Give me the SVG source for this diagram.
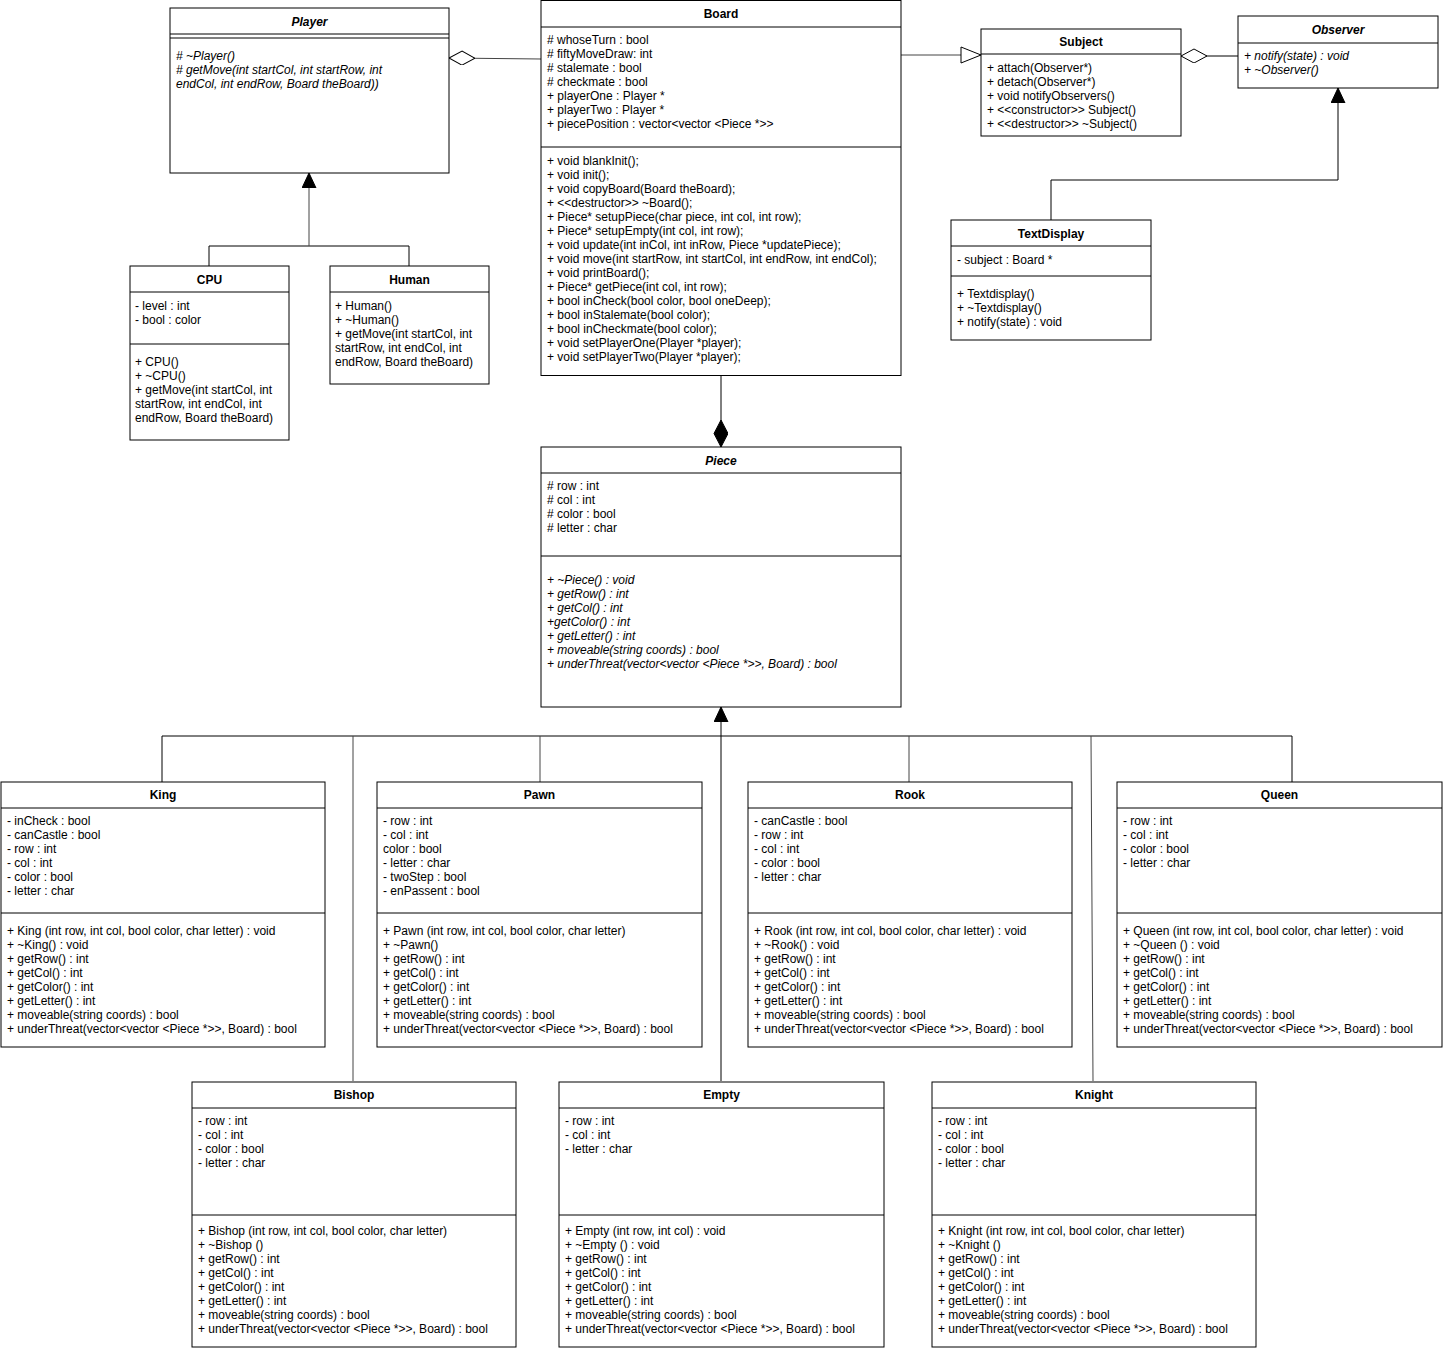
<svg xmlns="http://www.w3.org/2000/svg" width="1443" height="1351" viewBox="0 0 1443 1351">
<style>
.box{fill:#fff;stroke:#000;stroke-width:1}
.sep{stroke:#000;stroke-width:1}
text{font-family:"Liberation Sans",Arial,sans-serif;font-size:12px;fill:#000}
.ti{font-weight:bold;text-anchor:middle}
.it{font-style:italic}
.con{fill:none;stroke:#000;stroke-width:1}
.gr{stroke:#444}
</style>
<defs>
<marker id="tri" markerUnits="userSpaceOnUse" markerWidth="16" markerHeight="16" refX="15" refY="7" orient="auto"><path d="M0,0 L15,7 L0,14 z" fill="#000" stroke="#000"/></marker>
<marker id="htri" markerUnits="userSpaceOnUse" markerWidth="24" markerHeight="20" refX="21" refY="9" orient="auto"><path d="M1,1 L21,9 L1,17 z" fill="#fff" stroke="#000"/></marker>
<marker id="hdia" markerUnits="userSpaceOnUse" markerWidth="28" markerHeight="16" refX="26" refY="7" orient="auto"><path d="M0,7 L13,0 L26,7 L13,14 z" fill="#fff" stroke="#000"/></marker>
<marker id="fdia" markerUnits="userSpaceOnUse" markerWidth="30" markerHeight="16" refX="27" refY="7" orient="auto"><path d="M0,7 L13.5,0 L27,7 L13.5,14 z" fill="#000" stroke="#000"/></marker>
</defs>
<rect width="1443" height="1351" fill="#fff"/>
<g id="connectors">
<path class="con gr" d="M541,59 L449,58" marker-end="url(#hdia)"/>
<path class="con gr" d="M901,55 L981,55" marker-end="url(#htri)"/>
<path class="con" d="M1238,56 L1181,56" marker-end="url(#hdia)"/>
<path class="con" d="M1051,220 V180 H1338 V88" marker-end="url(#tri)"/>
<path class="con" d="M209,266 V246 H409 V266"/>
<path class="con gr" d="M309,246 V173" marker-end="url(#tri)"/>
<path class="con" d="M721,375 V447" marker-end="url(#fdia)"/>
<path class="con" d="M721,1081 V707" marker-end="url(#tri)"/>
<path class="con" d="M162,782 V736 H1292 V782"/>
<path class="con gr" d="M353,736 V1081"/>
<path class="con gr" d="M540,736 V782"/>
<path class="con gr" d="M909,736 V782"/>
<path class="con gr" d="M1091,736 L1093,1081"/>
</g>
<g id="Player">
<rect class="box" x="170" y="8" width="279" height="165"/>
<line class="sep" x1="170" y1="34" x2="449" y2="34"/>
<line class="sep" x1="170" y1="38" x2="449" y2="38"/>
<text class="ti it" x="309.5" y="26">Player</text>
<text class="it" x="176" y="60">#  ~Player()</text>
<text class="it" x="176" y="74">#  getMove(int startCol, int startRow, int</text>
<text class="it" x="176" y="88">endCol, int endRow, Board theBoard))</text>
</g>
<g id="Board">
<rect class="box" x="541" y="0.5" width="360" height="375"/>
<line class="sep" x1="541" y1="27" x2="901" y2="27"/>
<line class="sep" x1="541" y1="147" x2="901" y2="147"/>
<text class="ti" x="721" y="18">Board</text>
<text x="547" y="44"># whoseTurn : bool</text>
<text x="547" y="58"># fiftyMoveDraw: int</text>
<text x="547" y="72"># stalemate : bool</text>
<text x="547" y="86"># checkmate : bool</text>
<text x="547" y="100">+ playerOne : Player *</text>
<text x="547" y="114">+ playerTwo : Player *</text>
<text x="547" y="128">+ piecePosition : vector&lt;vector &lt;Piece *&gt;&gt;</text>
<text x="547" y="165">+ void blankInit();</text>
<text x="547" y="179">+ void init();</text>
<text x="547" y="193">+ void copyBoard(Board theBoard);</text>
<text x="547" y="207">+ &lt;&lt;destructor&gt;&gt; ~Board();</text>
<text x="547" y="221">+ Piece* setupPiece(char piece, int col, int row);</text>
<text x="547" y="235">+ Piece* setupEmpty(int col, int row);</text>
<text x="547" y="249">+ void update(int inCol, int inRow, Piece *updatePiece);</text>
<text x="547" y="263">+ void move(int startRow, int startCol, int endRow, int endCol);</text>
<text x="547" y="277">+ void printBoard();</text>
<text x="547" y="291">+ Piece* getPiece(int col, int row);</text>
<text x="547" y="305">+ bool inCheck(bool color, bool oneDeep);</text>
<text x="547" y="319">+ bool inStalemate(bool color);</text>
<text x="547" y="333">+ bool inCheckmate(bool color);</text>
<text x="547" y="347">+ void setPlayerOne(Player *player);</text>
<text x="547" y="361">+ void setPlayerTwo(Player *player);</text>
</g>
<g id="Subject">
<rect class="box" x="981" y="29" width="200" height="107"/>
<line class="sep" x1="981" y1="54" x2="1181" y2="54"/>
<text class="ti" x="1081" y="46">Subject</text>
<text x="987" y="72">+ attach(Observer*)</text>
<text x="987" y="86">+ detach(Observer*)</text>
<text x="987" y="100">+ void notifyObservers()</text>
<text x="987" y="114">+ &lt;&lt;constructor&gt;&gt; Subject()</text>
<text x="987" y="128">+ &lt;&lt;destructor&gt;&gt; ~Subject()</text>
</g>
<g id="Observer">
<rect class="box" x="1238" y="16" width="200" height="72"/>
<line class="sep" x1="1238" y1="43" x2="1438" y2="43"/>
<text class="ti it" x="1338" y="34">Observer</text>
<text class="it" x="1244" y="60">+ notify(state) : void</text>
<text class="it" x="1244" y="74">+ ~Observer()</text>
</g>
<g id="TextDisplay">
<rect class="box" x="951" y="220" width="200" height="120"/>
<line class="sep" x1="951" y1="246" x2="1151" y2="246"/>
<line class="sep" x1="951" y1="276" x2="1151" y2="276"/>
<text class="ti" x="1051" y="238">TextDisplay</text>
<text x="957" y="264">- subject : Board *</text>
<text x="957" y="298">+ Textdisplay()</text>
<text x="957" y="312">+ ~Textdisplay()</text>
<text x="957" y="326">+ notify(state) : void</text>
</g>
<g id="CPU">
<rect class="box" x="130" y="266" width="159" height="174"/>
<line class="sep" x1="130" y1="292" x2="289" y2="292"/>
<line class="sep" x1="130" y1="344" x2="289" y2="344"/>
<text class="ti" x="209.5" y="284">CPU</text>
<text x="135" y="310">- level : int</text>
<text x="135" y="324">- bool : color</text>
<text x="135" y="366">+ CPU()</text>
<text x="135" y="380">+ ~CPU()</text>
<text x="135" y="394">+ getMove(int startCol, int</text>
<text x="135" y="408">startRow, int endCol, int</text>
<text x="135" y="422">endRow, Board theBoard)</text>
</g>
<g id="Human">
<rect class="box" x="330" y="266" width="159" height="118"/>
<line class="sep" x1="330" y1="292" x2="489" y2="292"/>
<text class="ti" x="409.5" y="284">Human</text>
<text x="335" y="310">+ Human()</text>
<text x="335" y="324">+ ~Human()</text>
<text x="335" y="338">+ getMove(int startCol, int</text>
<text x="335" y="352">startRow, int endCol, int</text>
<text x="335" y="366">endRow, Board theBoard)</text>
</g>
<g id="Piece">
<rect class="box" x="541" y="447" width="360" height="260"/>
<line class="sep" x1="541" y1="473" x2="901" y2="473"/>
<line class="sep" x1="541" y1="556" x2="901" y2="556"/>
<text class="ti it" x="721" y="465">Piece</text>
<text x="547" y="490"># row : int</text>
<text x="547" y="504"># col : int</text>
<text x="547" y="518"># color : bool</text>
<text x="547" y="532"># letter : char</text>
<text class="it" x="547" y="584">+ ~Piece() : void</text>
<text class="it" x="547" y="598">+ getRow() : int</text>
<text class="it" x="547" y="612">+ getCol() : int</text>
<text class="it" x="547" y="626">+getColor() : int</text>
<text class="it" x="547" y="640">+ getLetter() : int</text>
<text class="it" x="547" y="654">+ moveable(string coords) : bool</text>
<text class="it" x="547" y="668">+ underThreat(vector&lt;vector &lt;Piece *&gt;&gt;, Board) : bool</text>
</g>
<g id="King">
<rect class="box" x="1" y="782" width="324" height="265"/>
<line class="sep" x1="1" y1="808" x2="325" y2="808"/>
<line class="sep" x1="1" y1="913" x2="325" y2="913"/>
<text class="ti" x="163" y="799">King</text>
<text x="7" y="825">- inCheck : bool</text>
<text x="7" y="839">- canCastle : bool</text>
<text x="7" y="853">- row : int</text>
<text x="7" y="867">- col : int</text>
<text x="7" y="881">- color : bool</text>
<text x="7" y="895">- letter : char</text>
<text x="7" y="935">+ King (int row, int col, bool color, char letter) : void</text>
<text x="7" y="949">+ ~King() : void</text>
<text x="7" y="963">+ getRow() : int</text>
<text x="7" y="977">+ getCol() : int</text>
<text x="7" y="991">+ getColor() : int</text>
<text x="7" y="1005">+ getLetter() : int</text>
<text x="7" y="1019">+ moveable(string coords) : bool</text>
<text x="7" y="1033">+ underThreat(vector&lt;vector &lt;Piece *&gt;&gt;, Board) : bool</text>
</g>
<g id="Pawn">
<rect class="box" x="377" y="782" width="325" height="265"/>
<line class="sep" x1="377" y1="808" x2="702" y2="808"/>
<line class="sep" x1="377" y1="913" x2="702" y2="913"/>
<text class="ti" x="539.5" y="799">Pawn</text>
<text x="383" y="825">- row : int</text>
<text x="383" y="839">- col : int</text>
<text x="383" y="853">color : bool</text>
<text x="383" y="867">- letter : char</text>
<text x="383" y="881">- twoStep : bool</text>
<text x="383" y="895">- enPassent : bool</text>
<text x="383" y="935">+ Pawn (int row, int col, bool color, char letter)</text>
<text x="383" y="949">+ ~Pawn()</text>
<text x="383" y="963">+ getRow() : int</text>
<text x="383" y="977">+ getCol() : int</text>
<text x="383" y="991">+ getColor() : int</text>
<text x="383" y="1005">+ getLetter() : int</text>
<text x="383" y="1019">+ moveable(string coords) : bool</text>
<text x="383" y="1033">+ underThreat(vector&lt;vector &lt;Piece *&gt;&gt;, Board) : bool</text>
</g>
<g id="Rook">
<rect class="box" x="748" y="782" width="324" height="265"/>
<line class="sep" x1="748" y1="808" x2="1072" y2="808"/>
<line class="sep" x1="748" y1="913" x2="1072" y2="913"/>
<text class="ti" x="910" y="799">Rook</text>
<text x="754" y="825">- canCastle : bool</text>
<text x="754" y="839">- row : int</text>
<text x="754" y="853">- col : int</text>
<text x="754" y="867">- color : bool</text>
<text x="754" y="881">- letter : char</text>
<text x="754" y="935">+ Rook (int row, int col, bool color, char letter) : void</text>
<text x="754" y="949">+ ~Rook() : void</text>
<text x="754" y="963">+ getRow() : int</text>
<text x="754" y="977">+ getCol() : int</text>
<text x="754" y="991">+ getColor() : int</text>
<text x="754" y="1005">+ getLetter() : int</text>
<text x="754" y="1019">+ moveable(string coords) : bool</text>
<text x="754" y="1033">+ underThreat(vector&lt;vector &lt;Piece *&gt;&gt;, Board) : bool</text>
</g>
<g id="Queen">
<rect class="box" x="1117" y="782" width="325" height="265"/>
<line class="sep" x1="1117" y1="808" x2="1442" y2="808"/>
<line class="sep" x1="1117" y1="913" x2="1442" y2="913"/>
<text class="ti" x="1279.5" y="799">Queen</text>
<text x="1123" y="825">- row : int</text>
<text x="1123" y="839">- col : int</text>
<text x="1123" y="853">- color : bool</text>
<text x="1123" y="867">- letter : char</text>
<text x="1123" y="935">+ Queen (int row, int col, bool color, char letter) : void</text>
<text x="1123" y="949">+ ~Queen () : void</text>
<text x="1123" y="963">+ getRow() : int</text>
<text x="1123" y="977">+ getCol() : int</text>
<text x="1123" y="991">+ getColor() : int</text>
<text x="1123" y="1005">+ getLetter() : int</text>
<text x="1123" y="1019">+ moveable(string coords) : bool</text>
<text x="1123" y="1033">+ underThreat(vector&lt;vector &lt;Piece *&gt;&gt;, Board) : bool</text>
</g>
<g id="Bishop">
<rect class="box" x="192" y="1082" width="324" height="265"/>
<line class="sep" x1="192" y1="1108" x2="516" y2="1108"/>
<line class="sep" x1="192" y1="1215" x2="516" y2="1215"/>
<text class="ti" x="354" y="1099">Bishop</text>
<text x="198" y="1125">- row : int</text>
<text x="198" y="1139">- col : int</text>
<text x="198" y="1153">- color : bool</text>
<text x="198" y="1167">- letter : char</text>
<text x="198" y="1235">+ Bishop (int row, int col, bool color, char letter)</text>
<text x="198" y="1249">+ ~Bishop ()</text>
<text x="198" y="1263">+ getRow() : int</text>
<text x="198" y="1277">+ getCol() : int</text>
<text x="198" y="1291">+ getColor() : int</text>
<text x="198" y="1305">+ getLetter() : int</text>
<text x="198" y="1319">+ moveable(string coords) : bool</text>
<text x="198" y="1333">+ underThreat(vector&lt;vector &lt;Piece *&gt;&gt;, Board) : bool</text>
</g>
<g id="Empty">
<rect class="box" x="559" y="1082" width="325" height="265"/>
<line class="sep" x1="559" y1="1108" x2="884" y2="1108"/>
<line class="sep" x1="559" y1="1215" x2="884" y2="1215"/>
<text class="ti" x="721.5" y="1099">Empty</text>
<text x="565" y="1125">- row : int</text>
<text x="565" y="1139">- col : int</text>
<text x="565" y="1153">- letter : char</text>
<text x="565" y="1235">+ Empty (int row, int col) : void</text>
<text x="565" y="1249">+ ~Empty () : void</text>
<text x="565" y="1263">+ getRow() : int</text>
<text x="565" y="1277">+ getCol() : int</text>
<text x="565" y="1291">+ getColor() : int</text>
<text x="565" y="1305">+ getLetter() : int</text>
<text x="565" y="1319">+ moveable(string coords) : bool</text>
<text x="565" y="1333">+ underThreat(vector&lt;vector &lt;Piece *&gt;&gt;, Board) : bool</text>
</g>
<g id="Knight">
<rect class="box" x="932" y="1082" width="324" height="265"/>
<line class="sep" x1="932" y1="1108" x2="1256" y2="1108"/>
<line class="sep" x1="932" y1="1215" x2="1256" y2="1215"/>
<text class="ti" x="1094" y="1099">Knight</text>
<text x="938" y="1125">- row : int</text>
<text x="938" y="1139">- col : int</text>
<text x="938" y="1153">- color : bool</text>
<text x="938" y="1167">- letter : char</text>
<text x="938" y="1235">+ Knight (int row, int col, bool color, char letter)</text>
<text x="938" y="1249">+ ~Knight ()</text>
<text x="938" y="1263">+ getRow() : int</text>
<text x="938" y="1277">+ getCol() : int</text>
<text x="938" y="1291">+ getColor() : int</text>
<text x="938" y="1305">+ getLetter() : int</text>
<text x="938" y="1319">+ moveable(string coords) : bool</text>
<text x="938" y="1333">+ underThreat(vector&lt;vector &lt;Piece *&gt;&gt;, Board) : bool</text>
</g>
</svg>
